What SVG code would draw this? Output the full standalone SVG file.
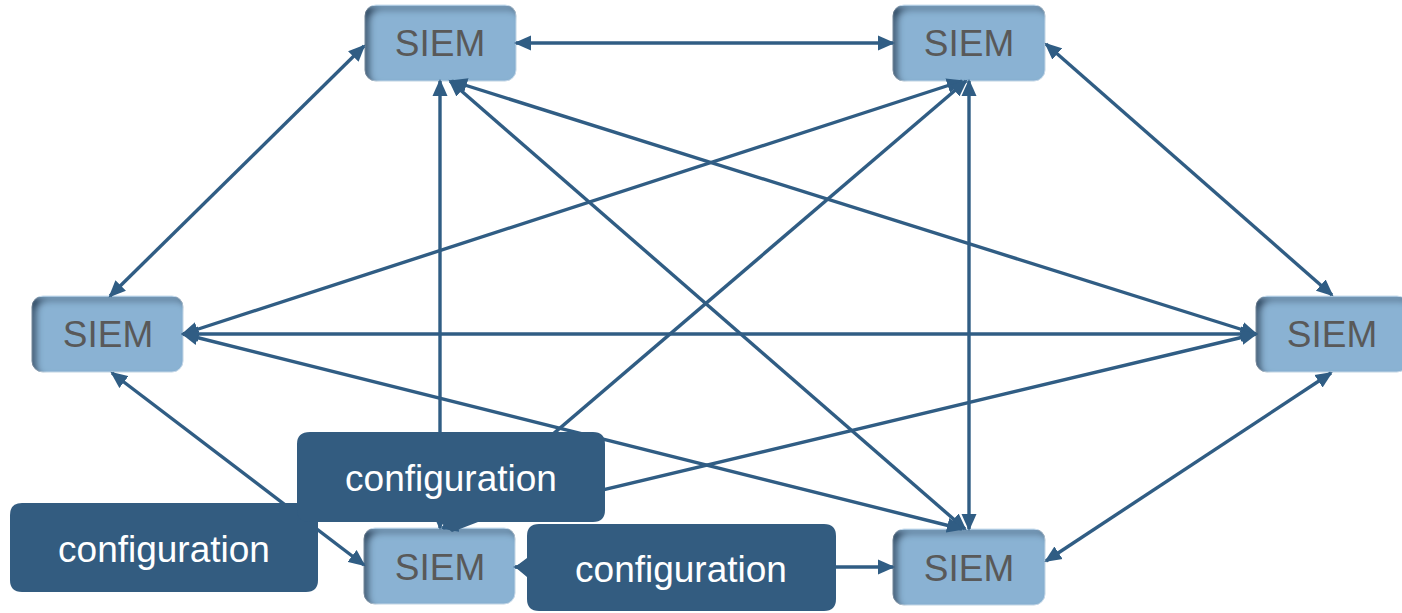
<svg xmlns="http://www.w3.org/2000/svg" width="1402" height="613" viewBox="0 0 1402 613">
  <style>
    .node rect { fill: #8AB2D3; stroke: #c9dcec; stroke-width: 1; }
    .node text { font-family: "Liberation Sans", Arial, sans-serif; font-size: 37px; fill: #595959; text-anchor: middle; }
    .link { stroke: #305D84; stroke-width: 3.4; fill: none; marker-start: url(#arrow); marker-end: url(#arrow); }
    .callout path { fill: #335C80; }
    .callout text { font-family: "Liberation Sans", Arial, sans-serif; font-size: 37px; fill: #ffffff; text-anchor: middle; }
  </style>
  <defs>
    <marker id="arrow" markerUnits="userSpaceOnUse" markerWidth="18" markerHeight="16" refX="15" refY="8" orient="auto-start-reverse">
      <path d="M0,0.5 L17,8 L0,15.5 z" fill="#305D84"/>
    </marker>
    <filter id="inset" x="-5%" y="-5%" width="110%" height="110%">
      <feComponentTransfer in="SourceAlpha" result="inv">
        <feFuncA type="table" tableValues="1 0"/>
      </feComponentTransfer>
      <feGaussianBlur in="inv" stdDeviation="3.5" result="blur"/>
      <feOffset in="blur" dx="5" dy="5" result="off"/>
      <feFlood flood-color="#1c3550" flood-opacity="1" result="col"/>
      <feComposite in="col" in2="off" operator="in" result="shadow"/>
      <feComposite in="shadow" in2="SourceAlpha" operator="in" result="inner"/>
      <feMerge>
        <feMergeNode in="SourceGraphic"/>
        <feMergeNode in="inner"/>
      </feMerge>
    </filter>
  </defs>

  <!-- SIEM nodes -->
  <g id="siem-top-left" class="node">
    <rect x="365" y="5" width="151" height="76" rx="11" filter="url(#inset)"/>
    <text x="440" y="56">SIEM</text>
  </g>
  <g id="siem-top-right" class="node">
    <rect x="893" y="5" width="152" height="76" rx="11" filter="url(#inset)"/>
    <text x="969" y="56">SIEM</text>
  </g>
  <g id="siem-left" class="node">
    <rect x="32" y="296" width="151" height="76" rx="11" filter="url(#inset)"/>
    <text x="108" y="347">SIEM</text>
  </g>
  <g id="siem-right" class="node">
    <rect x="1256" y="296" width="152" height="76" rx="11" filter="url(#inset)"/>
    <text x="1332" y="347">SIEM</text>
  </g>
  <g id="siem-bottom-left" class="node">
    <rect x="364" y="528" width="151" height="76" rx="11" filter="url(#inset)"/>
    <text x="440" y="580">SIEM</text>
  </g>
  <g id="siem-bottom-right" class="node">
    <rect x="893" y="529" width="152" height="76" rx="11" filter="url(#inset)"/>
    <text x="969" y="581">SIEM</text>
  </g>

  <!-- full mesh of bidirectional links -->
  <g id="connectors">
    <line class="link" x1="516" y1="43" x2="893" y2="43"/>
    <line class="link" x1="364" y1="46" x2="110" y2="296"/>
    <line class="link" x1="1046" y1="44" x2="1332" y2="295"/>
    <line class="link" x1="112" y1="373" x2="364" y2="565"/>
    <line class="link" x1="1331" y1="373" x2="1046" y2="561"/>
    <line class="link" x1="515" y1="567" x2="893" y2="567"/>
    <line class="link" x1="183" y1="334" x2="1256" y2="334"/>
    <line class="link" x1="440" y1="81" x2="440" y2="528"/>
    <line class="link" x1="969" y1="81" x2="969" y2="529"/>
    <line class="link" x1="450" y1="81" x2="965" y2="529"/>
    <line class="link" x1="452" y1="81" x2="1256" y2="334"/>
    <line class="link" x1="962" y1="81" x2="183" y2="334"/>
    <line class="link" x1="966" y1="81" x2="443" y2="528"/>
    <line class="link" x1="183" y1="334" x2="962" y2="529"/>
    <line class="link" x1="1256" y1="334" x2="443" y2="528"/>
  </g>

  <!-- configuration callouts -->
  <g id="config-left" class="callout">
    <path d="M22,503 H306 Q318,503 318,515 V580 Q318,592 306,592 H22 Q10,592 10,580 V515 Q10,503 22,503 Z"/>
    <text x="164" y="562">configuration</text>
  </g>
  <g id="config-middle" class="callout">
    <path d="M310,432 H593 Q605,432 605,444 V510 Q605,522 593,522 H478 L452,532 L440,522 H310 Q297,522 297,510 V444 Q297,432 310,432 Z"/>
    <text x="451" y="491">configuration</text>
  </g>
  <g id="config-bottom" class="callout">
    <path d="M539,524 H824 Q836,524 836,536 V599 Q836,611 824,611 H539 Q527,611 527,599 V577 L515,567 L527,558 V536 Q527,524 539,524 Z"/>
    <text x="681" y="582">configuration</text>
  </g>
</svg>
